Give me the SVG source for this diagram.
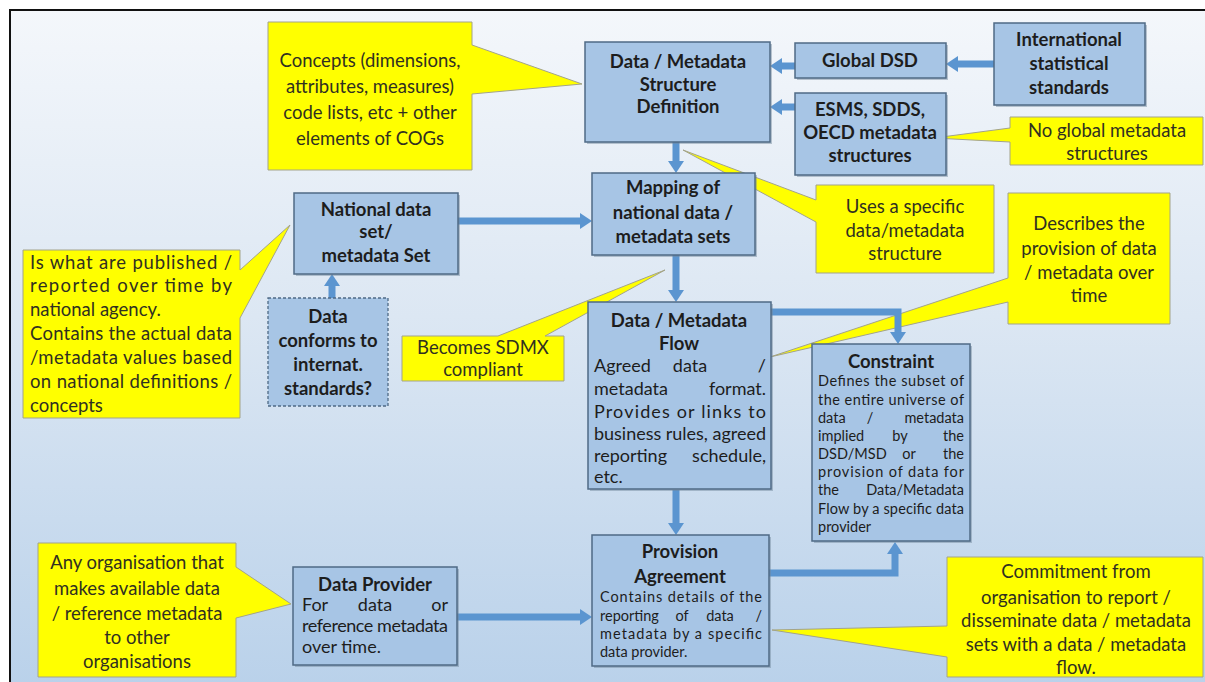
<svg xmlns="http://www.w3.org/2000/svg" width="1205" height="682" viewBox="0 0 1205 682">
  <defs>
    <linearGradient id="bg" x1="0" y1="0" x2="0" y2="1">
      <stop offset="0" stop-color="#f4f7fb"/>
      <stop offset="0.45" stop-color="#dce7f3"/>
      <stop offset="1" stop-color="#b9d1ea"/>
    </linearGradient>
    <marker id="ah" markerUnits="userSpaceOnUse" markerWidth="12" markerHeight="16" refX="0" refY="8" orient="auto">
      <path d="M0,0 L12,8 L0,16 Z" fill="#5b95d0"/>
    </marker>
    <style>
      .node { fill: #a7c5e5; stroke: #4f6a85; stroke-width: 1.5; }
      .shadow { fill: #6f8499; opacity: 0.45; }
      .dashed { fill: #a7c5e5; stroke: #4f6a85; stroke-width: 1.3; stroke-dasharray: 3 2; }
      .call { fill: #ffff00; stroke: #a3a38a; stroke-width: 1; }
      .conn { fill: none; stroke: #5b95d0; stroke-width: 7; stroke-linejoin: miter; marker-end: url(#ah); }
      text { font-family: Lato, "Open Sans", "Liberation Sans", sans-serif; fill: #1d1d1d; }
      .t { font-weight: bold; font-size: 18.5px; text-anchor: middle; }
      .b { font-size: 18px; }
      .s { font-size: 14.5px; }
      .c { font-size: 18.5px; fill: #303020; text-anchor: middle; }
      .cl { font-size: 18.5px; fill: #303020; }
      .m { text-anchor: middle; }
      .e { text-anchor: end; }
    </style>
  </defs>

  <!-- page -->
  <rect x="0" y="0" width="1205" height="682" fill="#ffffff"/>
  <rect x="10" y="10" width="1200" height="680" fill="url(#bg)" stroke="#111111" stroke-width="2"/>

  <!-- callouts -->
  <g id="callout-concepts">
    <path class="call" d="M268,22 H472 V45 L582,84 L472,94 V170 H268 Z"/>
    <text class="c" x="370" y="67">Concepts (dimensions,</text>
    <text class="c" x="370" y="93">attributes, measures)</text>
    <text class="c" x="370" y="119">code lists, etc + other</text>
    <text class="c" x="370" y="145">elements of COGs</text>
  </g>
  <g id="callout-noglobal">
    <path class="call" d="M1010,117 H1203 V165 H1010 V142 L934,138 L1010,128 Z"/>
    <text class="c" x="1107" y="137">No global metadata</text>
    <text class="c" x="1107" y="160">structures</text>
  </g>
  <g id="callout-uses">
    <path class="call" d="M816,185 H994 V273 H816 V222 L683,150 L816,200 Z"/>
    <text class="c" x="905" y="213">Uses a specific</text>
    <text class="c" x="905" y="237">data/metadata</text>
    <text class="c" x="905" y="260">structure</text>
  </g>
  <g id="callout-describes">
    <path class="call" d="M1008,193 H1170 V324 H1008 V302 L770,357 L1008,278 Z"/>
    <text class="c" x="1089" y="230">Describes the</text>
    <text class="c" x="1089" y="255">provision of data</text>
    <text class="c" x="1089" y="279">/ metadata over</text>
    <text class="c" x="1089" y="302">time</text>
  </g>
  <g id="callout-becomes">
    <path class="call" d="M402,336 H498 L665,270 L545,336 H564 V381 H402 Z"/>
    <text class="c" x="483" y="354">Becomes SDMX</text>
    <text class="c" x="483" y="376">compliant</text>
  </g>
  <g id="callout-published">
    <path class="call" d="M23,250 H240 V270 L290,225 L240,318 V418 H23 Z"/>
    <text class="cl" x="30" y="269" textLength="202" lengthAdjust="spacing">Is what are published /</text>
    <text class="cl" x="30" y="292" textLength="202" lengthAdjust="spacing">reported over time by</text>
    <text class="cl" x="30" y="316">national agency.</text>
    <text class="cl" x="30" y="340" textLength="202" lengthAdjust="spacing">Contains the actual data</text>
    <text class="cl" x="30" y="364" textLength="202" lengthAdjust="spacing">/metadata values based</text>
    <text class="cl" x="30" y="388" textLength="202" lengthAdjust="spacing">on national definitions /</text>
    <text class="cl" x="30" y="412">concepts</text>
  </g>
  <g id="callout-organisation">
    <path class="call" d="M38,543 H236 V567 L291,604 L236,618 V677 H38 Z"/>
    <text class="c" x="137" y="569">Any organisation that</text>
    <text class="c" x="137" y="595">makes available data</text>
    <text class="c" x="137" y="620">/ reference metadata</text>
    <text class="c" x="137" y="644">to other</text>
    <text class="c" x="137" y="668">organisations</text>
  </g>
  <g id="callout-commitment">
    <path class="call" d="M947,557 H1203 V677 H947 V657 L772,630 L947,626 Z"/>
    <text class="c" x="1076" y="578">Commitment from</text>
    <text class="c" x="1076" y="604">organisation to report /</text>
    <text class="c" x="1076" y="627">disseminate data / metadata</text>
    <text class="c" x="1076" y="651">sets with a data / metadata</text>
    <text class="c" x="1076" y="674">flow.</text>
  </g>

  <!-- connectors -->
  <g id="connectors">
    <path class="conn" d="M795,66 H782"/>
    <path class="conn" d="M994,64 H958"/>
    <path class="conn" d="M795,107 H782"/>
    <path class="conn" d="M676,142 V161"/>
    <path class="conn" d="M458,221 H580"/>
    <path class="conn" d="M332,298 V286"/>
    <path class="conn" d="M676,255 V290"/>
    <path class="conn" d="M771,312 H898 V332"/>
    <path class="conn" d="M676,490 V523"/>
    <path class="conn" d="M769,573 H895 V554"/>
    <path class="conn" d="M457,617 H580"/>
  </g>

  <!-- nodes -->
  <g id="node-dsd">
    <rect class="shadow" x="587" y="44" width="185" height="100"/>
    <rect class="node" x="585" y="42" width="185" height="100"/>
    <text class="t" x="678" y="68">Data / Metadata</text>
    <text class="t" x="678" y="91">Structure</text>
    <text class="t" x="678" y="113">Definition</text>
  </g>
  <g id="node-global-dsd">
    <rect class="shadow" x="797" y="45" width="151" height="35"/>
    <rect class="node" x="795" y="43" width="151" height="35"/>
    <text class="t" x="870" y="67">Global DSD</text>
  </g>
  <g id="node-international">
    <rect class="shadow" x="996" y="25" width="151" height="82"/>
    <rect class="node" x="994" y="23" width="151" height="82"/>
    <text class="t" x="1069" y="46">International</text>
    <text class="t" x="1069" y="70">statistical</text>
    <text class="t" x="1069" y="94">standards</text>
  </g>
  <g id="node-esms">
    <rect class="shadow" x="797" y="95" width="151" height="82"/>
    <rect class="node" x="795" y="93" width="151" height="82"/>
    <text class="t" x="870" y="116">ESMS, SDDS,</text>
    <text class="t" x="870" y="139">OECD metadata</text>
    <text class="t" x="870" y="162">structures</text>
  </g>
  <g id="node-mapping">
    <rect class="shadow" x="594" y="175" width="163" height="82"/>
    <rect class="node" x="592" y="173" width="163" height="82"/>
    <text class="t" x="673" y="194">Mapping of</text>
    <text class="t" x="673" y="219">national data /</text>
    <text class="t" x="673" y="243">metadata sets</text>
  </g>
  <g id="node-national">
    <rect class="shadow" x="296" y="195" width="164" height="81"/>
    <rect class="node" x="294" y="193" width="164" height="81"/>
    <text class="t" x="376" y="216">National data</text>
    <text class="t" x="376" y="238">set/</text>
    <text class="t" x="376" y="262">metadata Set</text>
  </g>
  <g id="node-conforms">
    <rect class="dashed" x="268" y="298" width="120" height="108"/>
    <text class="t" x="328" y="323">Data</text>
    <text class="t" x="328" y="347">conforms to</text>
    <text class="t" x="328" y="371">internat.</text>
    <text class="t" x="328" y="395">standards?</text>
  </g>
  <g id="node-flow">
    <rect class="shadow" x="590" y="304" width="183" height="187"/>
    <rect class="node" x="588" y="302" width="183" height="187"/>
    <text class="t" x="679" y="327">Data / Metadata</text>
    <text class="t" x="679" y="350">Flow</text>
    <text class="b" x="594" y="372">Agreed</text>
    <text class="b m" x="690" y="372">data</text>
    <text class="b e" x="766" y="372">/</text>
    <text class="b" x="594" y="395">metadata</text>
    <text class="b e" x="766" y="395">format.</text>
    <text class="b" x="594" y="418" textLength="172" lengthAdjust="spacing">Provides or links to</text>
    <text class="b" x="594" y="440" textLength="172" lengthAdjust="spacing">business rules, agreed</text>
    <text class="b" x="594" y="462">reporting</text>
    <text class="b e" x="766" y="462">schedule,</text>
    <text class="b" x="594" y="483">etc.</text>
  </g>
  <g id="node-constraint">
    <rect class="shadow" x="814" y="346" width="158" height="197"/>
    <rect class="node" x="812" y="344" width="158" height="197"/>
    <text class="t" x="891" y="368">Constraint</text>
    <text class="s" x="818" y="386" textLength="146" lengthAdjust="spacing">Defines the subset of</text>
    <text class="s" x="818" y="405" textLength="146" lengthAdjust="spacing">the entire universe of</text>
    <text class="s" x="818" y="423">data</text>
    <text class="s m" x="870" y="423">/</text>
    <text class="s e" x="964" y="423">metadata</text>
    <text class="s" x="818" y="441">implied</text>
    <text class="s m" x="900" y="441">by</text>
    <text class="s e" x="964" y="441">the</text>
    <text class="s" x="818" y="459">DSD/MSD</text>
    <text class="s m" x="909" y="459">or</text>
    <text class="s e" x="964" y="459">the</text>
    <text class="s" x="818" y="477" textLength="146" lengthAdjust="spacing">provision of data for</text>
    <text class="s" x="818" y="495">the</text>
    <text class="s e" x="964" y="495">Data/Metadata</text>
    <text class="s" x="818" y="514" textLength="146" lengthAdjust="spacing">Flow by a specific data</text>
    <text class="s" x="818" y="532">provider</text>
  </g>
  <g id="node-provision">
    <rect class="shadow" x="594" y="537" width="177" height="131"/>
    <rect class="node" x="592" y="535" width="177" height="131"/>
    <text class="t" x="680" y="558">Provision</text>
    <text class="t" x="680" y="583">Agreement</text>
    <text class="s" x="600" y="602" textLength="162" lengthAdjust="spacing">Contains details of the</text>
    <text class="s" x="600" y="621">reporting</text>
    <text class="s m" x="682" y="621">of</text>
    <text class="s m" x="720" y="621">data</text>
    <text class="s e" x="762" y="621">/</text>
    <text class="s" x="600" y="639" textLength="162" lengthAdjust="spacing">metadata by a specific</text>
    <text class="s" x="600" y="657">data provider.</text>
  </g>
  <g id="node-provider">
    <rect class="shadow" x="295" y="569" width="164" height="98"/>
    <rect class="node" x="293" y="567" width="164" height="98"/>
    <text class="t" x="375" y="591">Data Provider</text>
    <text class="b" x="302" y="611">For</text>
    <text class="b m" x="375" y="611">data</text>
    <text class="b e" x="448" y="611">or</text>
    <text class="b" x="302" y="632" textLength="146" lengthAdjust="spacing">reference metadata</text>
    <text class="b" x="302" y="653">over time.</text>
  </g>
</svg>
